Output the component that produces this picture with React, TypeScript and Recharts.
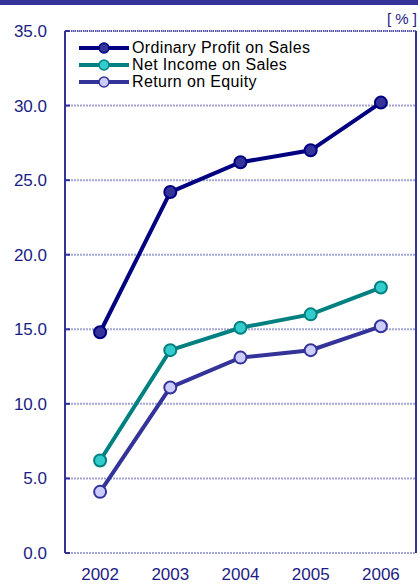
import { CartesianGrid, Line, LineChart, ReferenceLine, XAxis, YAxis } from "recharts";

const FONT = '"Liberation Sans", Arial, sans-serif';
const AXIS_BLUE = "#333399";
const LABEL_BLUE = "#1c1c84";

const years = ["2002", "2003", "2004", "2005", "2006"];
const ordinaryProfitOnSales = [14.8, 24.2, 26.2, 27.0, 30.2];
const netIncomeOnSales = [6.2, 13.6, 15.1, 16.0, 17.8];
const returnOnEquity = [4.1, 11.1, 13.1, 13.6, 15.2];
const yTicks = [0, 5, 10, 15, 20, 25, 30, 35];
// category boundaries along the x axis (one band per year)
const bandEdges = [1, 2, 3, 4];

const series = [
  { key: "ordinary", name: "Ordinary Profit on Sales", line: "#000080", fill: "#333399", stroke: "#000080" },
  { key: "net", name: "Net Income on Sales", line: "#008080", fill: "#33cccc", stroke: "#008080" },
  { key: "roe", name: "Return on Equity", line: "#333399", fill: "#ccccff", stroke: "#333399" }
];

const rows = years.map((year, i) => ({
  pos: i + 0.5,
  year,
  ordinary: ordinaryProfitOnSales[i],
  net: netIncomeOnSales[i],
  roe: returnOnEquity[i]
}));

function LegendBox() {
  return (
    <div style={{ position: "absolute", left: 78, top: 39, fontFamily: FONT, fontSize: 16, letterSpacing: 0.35, color: "#000" }}>
      {series.map((s) => (
        <div key={s.key} style={{ display: "flex", alignItems: "center", height: 17 }}>
          <svg width={52} height={14} style={{ marginRight: 2 }}>
            <line x1={1} y1={7} x2={51} y2={7} stroke={s.line} strokeWidth={4} />
            <circle cx={26} cy={7} r={5} fill={s.fill} stroke={s.stroke} strokeWidth={1.5} />
          </svg>
          <span style={{ lineHeight: "17px" }}>{s.name}</span>
        </div>
      ))}
    </div>
  );
}

export default function App() {
  const tickStyle = { fill: LABEL_BLUE, fontSize: 17, fontFamily: FONT };
  return (
    <div style={{ position: "absolute", left: 0, top: 0, width: 418, height: 585, background: "#fff" }}>
      <div style={{ position: "absolute", left: 0, top: 0, width: 418, height: 5, background: AXIS_BLUE }} />
      <div style={{ position: "absolute", right: 1, top: 10, fontFamily: FONT, fontSize: 15, color: LABEL_BLUE }}>[ % ]</div>
      <LineChart width={418} height={585} data={rows} margin={{ top: 31, right: 2, bottom: 0, left: 0 }}>
        <CartesianGrid horizontal vertical={false} stroke="#a4a4d2" strokeWidth={2} strokeDasharray="2 1" xAxisId="edges" />
        <XAxis
          xAxisId="edges"
          type="number"
          dataKey="pos"
          domain={[0, 5]}
          ticks={bandEdges}
          tickSize={-5}
          tickFormatter={() => ""}
          height={0}
          stroke={AXIS_BLUE}
          strokeWidth={2}
        />
        <XAxis
          xAxisId="years"
          type="number"
          dataKey="pos"
          domain={[0, 5]}
          ticks={rows.map((r) => r.pos)}
          tickFormatter={(v) => years[Math.floor(Number(v))]}
          axisLine={false}
          tickLine={false}
          tickSize={0}
          tickMargin={15}
          height={32}
          tick={tickStyle}
        />
        <YAxis
          type="number"
          domain={[0, 35]}
          ticks={yTicks}
          tickFormatter={(v) => Number(v).toFixed(1)}
          width={65}
          tickSize={-5}
          tickMargin={23}
          stroke={AXIS_BLUE}
          strokeWidth={2}
          tick={tickStyle}
        />
        <ReferenceLine xAxisId="edges" x={5} stroke={AXIS_BLUE} strokeWidth={2} />
        <ReferenceLine xAxisId="edges" y={35} stroke={AXIS_BLUE} strokeWidth={1.5} strokeDasharray="1 1" />
        {series.map((s) => (
          <Line
            key={s.key}
            xAxisId="years"
            dataKey={s.key}
            name={s.name}
            stroke={s.line}
            strokeWidth={4}
            dot={{ r: 6, fill: s.fill, stroke: s.stroke, strokeWidth: 2 }}
            activeDot={false}
            isAnimationActive={false}
          />
        ))}
      </LineChart>
      <LegendBox />
    </div>
  );
}
